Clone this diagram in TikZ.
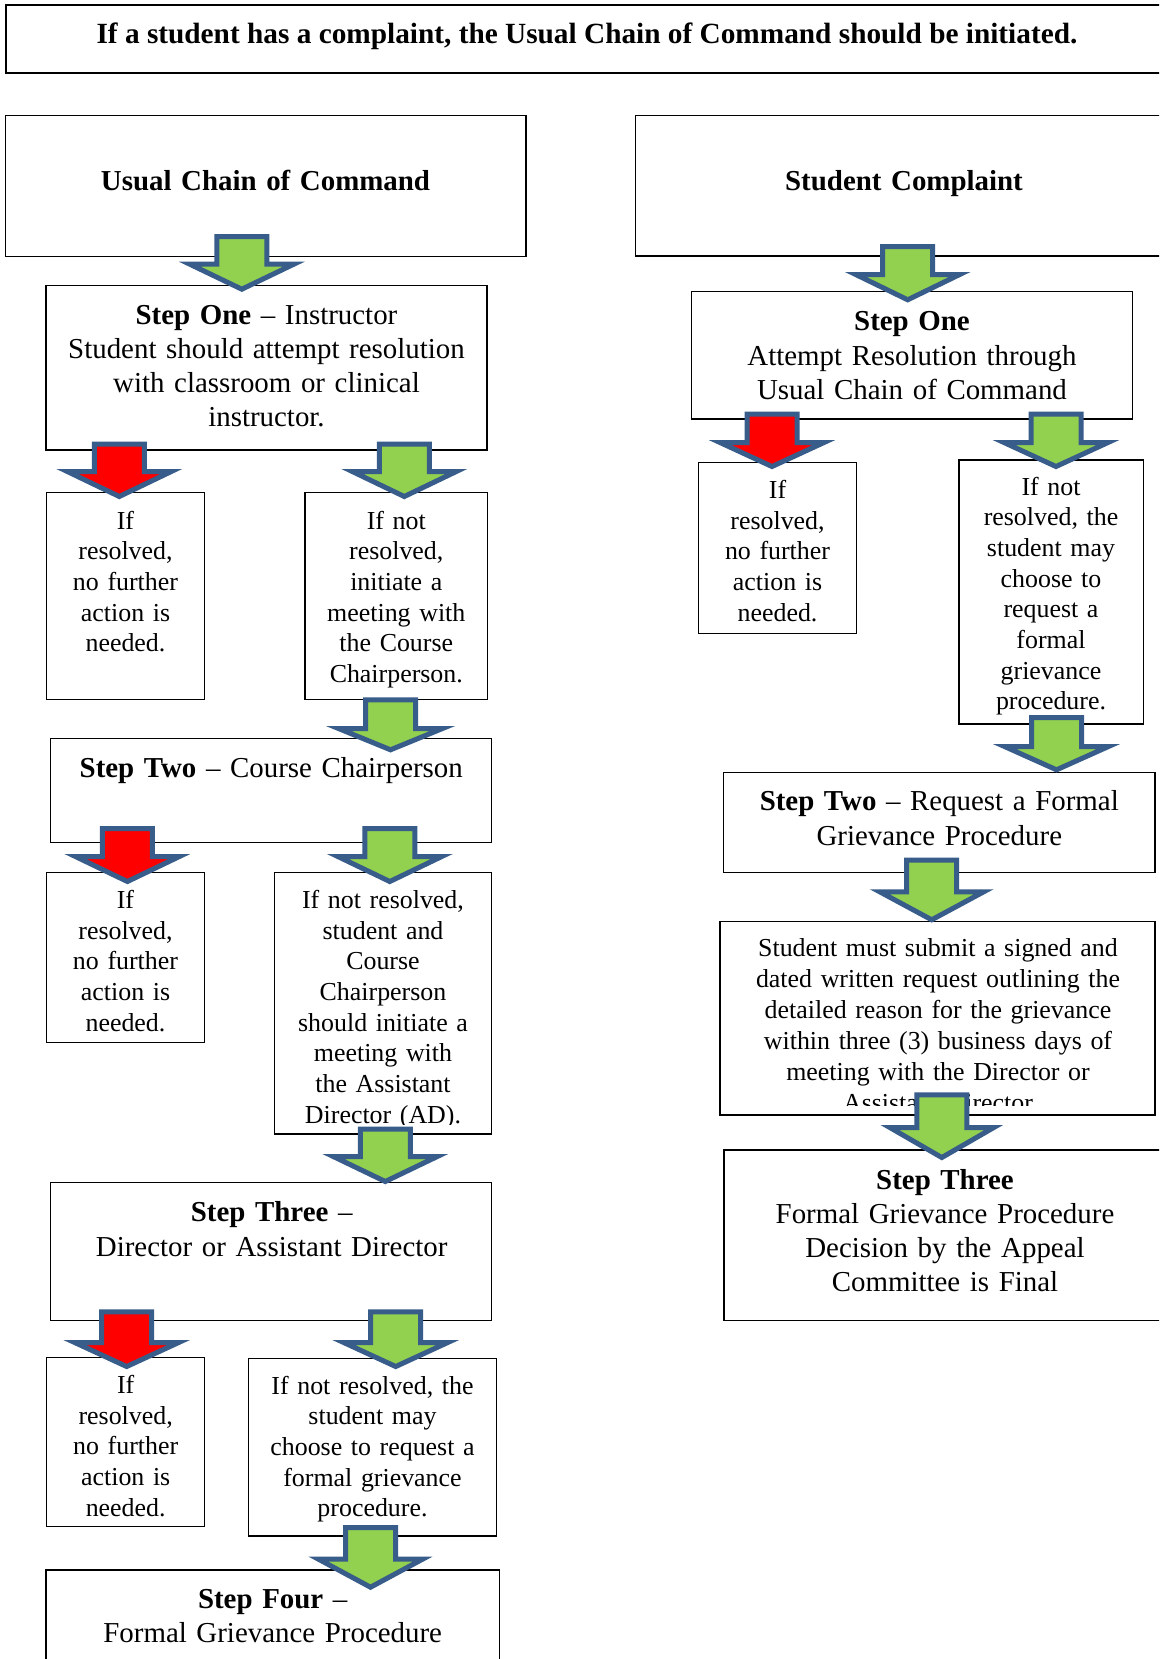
\documentclass[tikz,border=0pt]{standalone}
\usepackage{fontspec}
\setmainfont{Liberation Serif}
\usetikzlibrary{fit}
\definecolor{arrowblue}{HTML}{385D8A}
\definecolor{arrowgreen}{HTML}{92D050}
\definecolor{arrowred}{HTML}{FF0000}
\tikzset{
  boxsty/.style={draw=black, line width=1.4pt, fill=white, inner sep=0pt, outer sep=0pt},
  bigtext/.style={font=\fontsize{28.9}{34.3}\selectfont, text width=560pt, align=center, anchor=base, inner sep=0pt},
  smalltext/.style={font=\fontsize{25.9}{30.7}\selectfont, text width=400pt, align=center, anchor=base, inner sep=0pt},
  titletext/.style={font=\fontsize{29.3}{32}\selectfont\bfseries, anchor=base, inner sep=0pt},
  blockarrow/.style={draw=arrowblue, line width=5pt, line join=miter},
}
% block arrow: centre x, top y, wing y, tip y, fill colour
\newcommand\blockarr[5]{%
  \draw[blockarrow, fill=#5] ({#1-25},{#2+2.5}) -- ({#1+25},{#2+2.5}) -- ({#1+25},{#3+2.5})
    -- ({#1+52},{#3+2.5}) -- ({#1},{#4-3.5}) -- ({#1-52},{#3+2.5}) -- ({#1-25},{#3+2.5}) -- cycle;}
\begin{document}
\begin{tikzpicture}[x=1pt,y=-1pt]
\useasboundingbox (0,0) rectangle (1159,1659);
\fill[white] (0,0) rectangle (1159,1659);
\clip (0,0) rectangle (1159,1659);

% ---------- boxes ----------
\node[boxsty, fit={(5.9,5) (1170,73)}] (title) {};
\node[boxsty, fit={(5.7,115.7) (526,256.7)}] (usual) {};
\node[boxsty, fit={(635.6,115.7) (1175,256)}] (complaint) {};
% left column
\node[boxsty, fit={(46,285.3) (487,450)}] (l1) {};
\node[boxsty, fit={(46.7,492.7) (204.3,699.5)}] (l1a) {};
\node[boxsty, fit={(305,492.7) (487.5,699.3)}] (l1b) {};
\node[boxsty, fit={(50.7,738.3) (491.7,842.7)}] (l2) {};
\node[boxsty, fit={(46.7,872.7) (204.3,1042.5)}] (l2a) {};
\node[boxsty, fit={(274.5,872.7) (491.7,1134)}] (l2b) {};
\node[boxsty, fit={(50.7,1182.7) (491.7,1320.7)}] (l3) {};
\node[boxsty, fit={(46.7,1357.7) (204.7,1526.7)}] (l3a) {};
\node[boxsty, fit={(248.3,1358.3) (496.7,1536)}] (l3b) {};
\node[boxsty, fit={(46,1570) (499.3,1700)}] (l4) {};
% right column
\node[boxsty, fit={(691.4,291.7) (1132.7,419)}] (r1) {};
\node[boxsty, fit={(698.3,462.3) (856.7,633.3)}] (r1a) {};
\node[boxsty, fit={(959,460) (1143.3,724)}] (r1b) {};
\node[boxsty, fit={(723.3,772.5) (1155,872.7)}] (r2) {};
\node[boxsty, fit={(720,921.7) (1155,1115)}] (r2a) {};
\node[boxsty, fit={(724,1150) (1175,1320.7)}] (r3) {};

% ---------- texts ----------
\node[titletext] (ttitle) at (587,43.3) {If a student has a complaint, the Usual Chain of Command should be initiated.};
\node[bigtext] (tusual) at (265.5,190) {\textbf{Usual Chain of Command}};
\node[bigtext] (tcomplaint) at (904,190) {\textbf{Student Complaint}};

\node[bigtext] (tl1) at (266.5,324) {\textbf{Step One} – Instructor\\Student should attempt resolution\\with classroom or clinical\\instructor.};
\node[smalltext] (tl1a) at (125.5,529) {If\\resolved,\\no further\\action is\\needed.};
\node[smalltext] (tl1b) at (396.3,529) {If not\\resolved,\\initiate a\\meeting with\\the Course\\Chairperson.};
\node[bigtext] (tl2) at (271.3,777.3) {\textbf{Step Two} – Course Chairperson};
\node[smalltext] (tl2a) at (125.5,908.5) {If\\resolved,\\no further\\action is\\needed.};
\begin{scope}
\clip (0,0) rectangle (1159,1124);
\node[smalltext] (tl2b) at (383,908.3) {If not resolved,\\student and\\Course\\Chairperson\\should initiate a\\meeting with\\the Assistant\\Director (AD).};
\end{scope}
\node[bigtext] (tl3) at (271.7,1221.7) {\textbf{Step Three} –\\Director or Assistant Director};
\node[smalltext] (tl3a) at (125.7,1393.5) {If\\resolved,\\no further\\action is\\needed.};
\node[smalltext] (tl3b) at (372.5,1394) {If not resolved, the\\student may\\choose to request a\\formal grievance\\procedure.};
\node[bigtext] (tl4) at (272.7,1608.3) {\textbf{Step Four} –\\Formal Grievance Procedure};

\node[bigtext] (tr1) at (912,330.7) {\textbf{Step One}\\Attempt Resolution through\\Usual Chain of Command};
\node[smalltext] (tr1a) at (777.5,498.3) {If\\resolved,\\no further\\action is\\needed.};
\begin{scope}
\clip (0,0) rectangle (1159,714);
\node[smalltext] (tr1b) at (1051,495) {If not\\resolved, the\\student may\\choose to\\request a\\formal\\grievance\\procedure.};
\end{scope}
\node[bigtext] (tr2) at (939.3,810.7) {\textbf{Step Two} – Request a Formal\\Grievance Procedure};
\begin{scope}
\clip (0,0) rectangle (1159,1105);
\node[smalltext, font=\fontsize{25.9}{31}\selectfont] (tr2a) at (938,956.7) {Student must submit a signed and\\dated written request outlining the\\detailed reason for the grievance\\within three (3) business days of\\meeting with the Director or\\Assistant Director};
\end{scope}
\node[bigtext, font=\fontsize{28.9}{34}\selectfont] (tr3) at (945,1189.3) {\textbf{Step Three}\\Formal Grievance Procedure\\Decision by the Appeal\\Committee is Final};

% ---------- block arrows ----------
\blockarr{241.8}{234}{261.7}{292.7}{arrowgreen}
\blockarr{907.7}{244}{272}{303.3}{arrowgreen}
\blockarr{119.3}{441.7}{469}{500}{arrowred}
\blockarr{404.3}{441.7}{469}{500}{arrowgreen}
\blockarr{772}{411.7}{440}{470}{arrowred}
\blockarr{1056}{411.7}{440}{470}{arrowgreen}
\blockarr{390.5}{697.3}{726}{753.3}{arrowgreen}
\blockarr{127.4}{826}{854}{885}{arrowred}
\blockarr{389.8}{826}{854}{885}{arrowgreen}
\blockarr{1056.5}{715}{744}{773.3}{arrowgreen}
\blockarr{931.7}{857.7}{889.3}{923.3}{arrowgreen}
\blockarr{385.3}{1126.7}{1154}{1185}{arrowgreen}
\blockarr{941.8}{1092.3}{1125}{1161}{arrowgreen}
\blockarr{126.7}{1309.3}{1340}{1370}{arrowred}
\blockarr{395.7}{1309.3}{1340}{1370}{arrowgreen}
\blockarr{370.5}{1525}{1556.7}{1590.7}{arrowgreen}
\end{tikzpicture}
\end{document}
